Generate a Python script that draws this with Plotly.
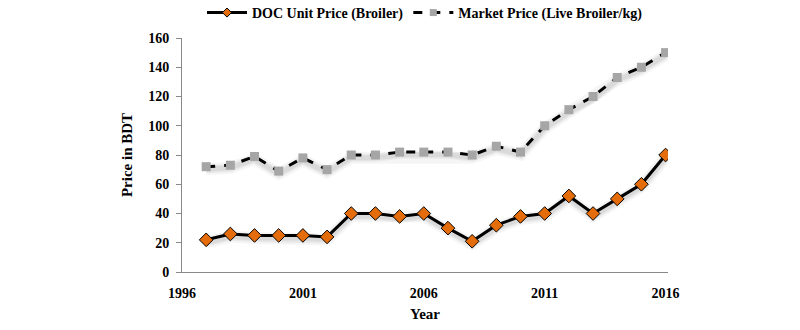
import plotly.graph_objects as go

years = list(range(1997, 2017))
doc_price = [22, 26, 25, 25, 25, 24, 40, 40, 38, 40, 30, 21, 32, 38, 40, 52, 40, 50, 60, 80]
market_price = [72, 73, 79, 69, 78, 70, 80, 80, 82, 82, 82, 80, 86, 82, 100, 111, 120, 133, 140, 150]
x_ticks = [1996, 2001, 2006, 2011, 2016]
y_ticks = [0, 20, 40, 60, 80, 100, 120, 140, 160]
names = ["DOC Unit Price (Broiler)", "Market Price (Live Broiler/kg)"]

FONT = "Liberation Serif"
fig = go.Figure()

# soft shadows
for vals in (doc_price, market_price):
    for w, a in [(12, 0.04), (8, 0.05), (5, 0.06)]:
        fig.add_trace(go.Scatter(x=years, y=[v - 1.8 for v in vals], mode="lines",
                                 line=dict(color=f"rgba(0,0,0,{a})", width=w),
                                 hoverinfo="skip", showlegend=False))

doc_marker = dict(symbol="diamond", size=10.5, color="#E46C0A", line=dict(color="black", width=1))
mkt_marker = dict(symbol="square", size=9, color="#A6A6A6")

fig.add_trace(go.Scatter(
    x=years, y=doc_price, mode="lines+markers", name=names[0], showlegend=False,
    line=dict(color="black", width=3), marker=doc_marker))
fig.add_trace(go.Scatter(
    x=years, y=market_price, mode="lines+markers", name=names[1], showlegend=False,
    line=dict(color="black", width=3, dash="dash"), marker=mkt_marker))

# legend entries with smaller markers
fig.add_trace(go.Scatter(x=[None], y=[None], mode="lines+markers", name=names[0],
                         line=dict(color="black", width=3),
                         marker=dict(symbol="diamond", size=7, color="#E46C0A",
                                     line=dict(color="black", width=1))))
fig.add_trace(go.Scatter(x=[None], y=[None], mode="lines+markers", name=names[1],
                         line=dict(color="black", width=3, dash="dash"),
                         marker=dict(symbol="square", size=7, color="#A6A6A6")))

fig.update_layout(
    width=800, height=330, paper_bgcolor="white", plot_bgcolor="white",
    margin=dict(l=182, r=132, t=38, b=58, autoexpand=False),
    font=dict(family=FONT, size=14, color="black"),
    legend=dict(orientation="h", x=0.5, xanchor="center", y=1.107, yanchor="middle",
                font=dict(family=FONT, size=14, color="black", weight="bold"),
                itemwidth=40, tracegroupgap=0),
    xaxis=dict(range=[1996, 2016.1], tickvals=x_ticks, showgrid=False, zeroline=False,
               showline=True, linecolor="#888", linewidth=1, ticks="",
               ticklabelstandoff=8,
               tickfont=dict(family=FONT, size=14, weight="bold"),
               title=dict(text="Year", font=dict(family=FONT, size=15, weight="bold"), standoff=8)),
    yaxis=dict(range=[0, 160], tickvals=y_ticks, showgrid=False, zeroline=False,
               showline=True, linecolor="#888", linewidth=1, ticks="outside", ticklen=5,
               tickcolor="#888", ticklabelstandoff=4,
               tickfont=dict(family=FONT, size=14, weight="bold"),
               title=dict(text="Price in BDT", font=dict(family=FONT, size=15, weight="bold"), standoff=11)),
)
fig.write_html("out.html")
